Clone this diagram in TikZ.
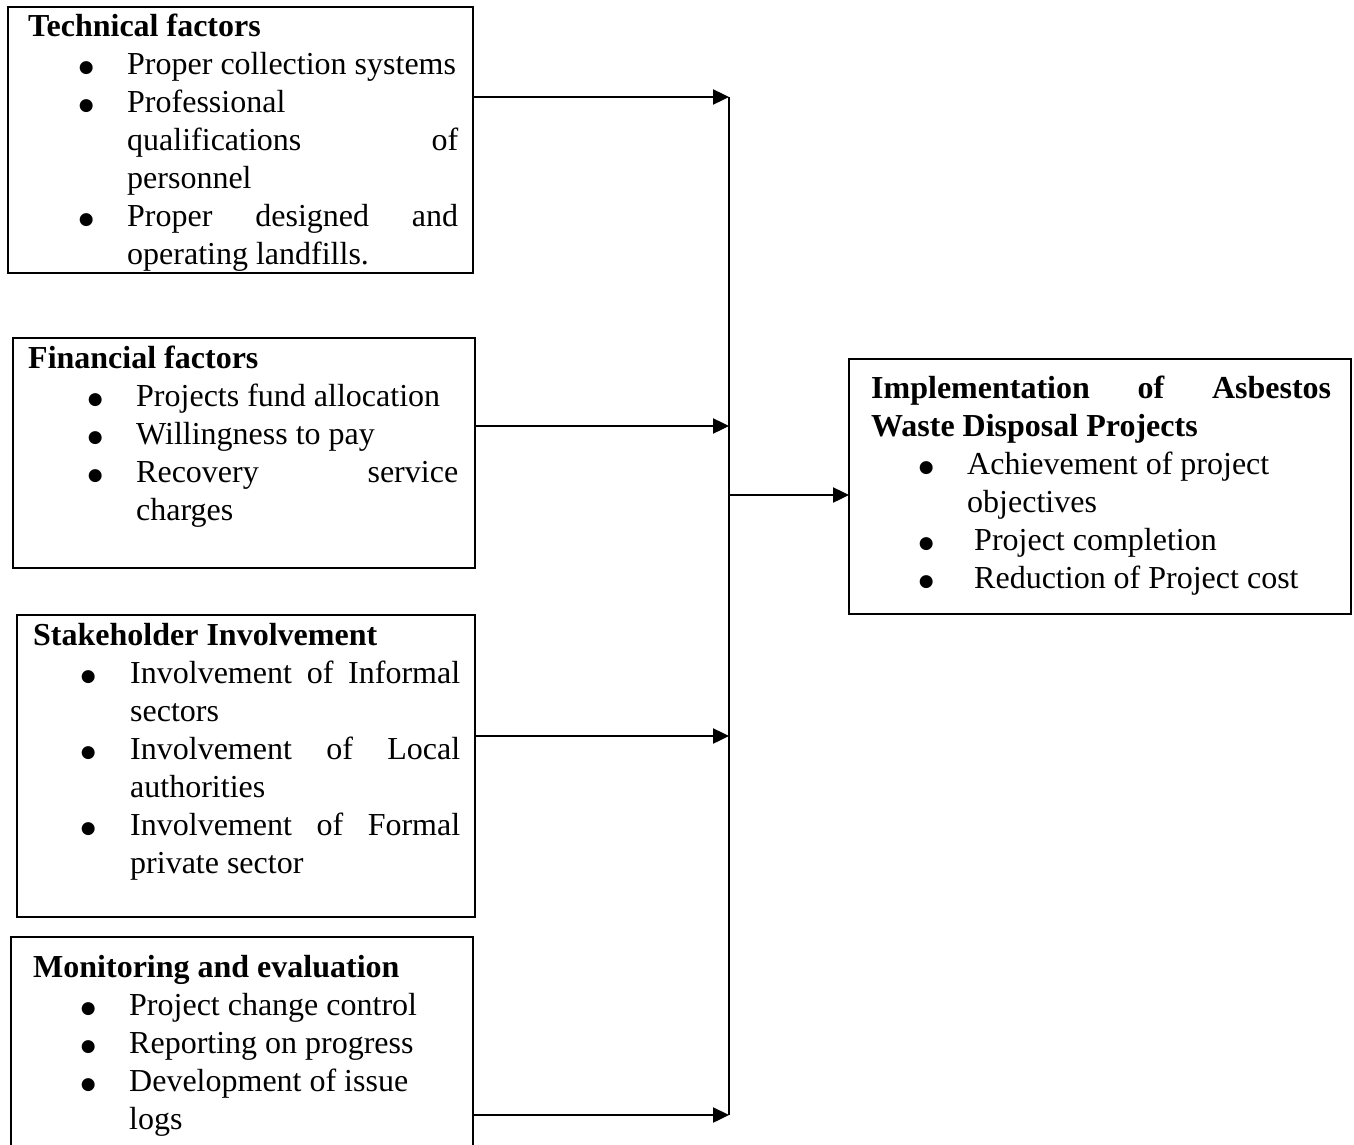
\documentclass[tikz,border=0pt]{standalone}
\usepackage{fontspec}
\setmainfont{Liberation Serif}
\newfontfamily\xsym{DejaVu Sans}
\usetikzlibrary{arrows.meta}
\newlength\xlw
\newcommand\xbul{\raisebox{1pt}{\xsym\fontsize{8.5}{8.5}\selectfont ●}}
\newcommand\xTL[1]{\hbox to \xlw{\bfseries #1\hfil}}
\newcommand\xTJ[1]{\hbox to \xlw{\bfseries #1}}
\newcommand\xBL[3]{\hbox to \xlw{\hskip#1\relax\hbox to 0pt{\hss\xbul\hss}\hskip\dimexpr#2-#1\relax #3\hfil}}
\newcommand\xBJ[3]{\hbox to \xlw{\hskip#1\relax\hbox to 0pt{\hss\xbul\hss}\hskip\dimexpr#2-#1\relax #3}}
\newcommand\xCL[2]{\hbox to \xlw{\hskip#1\relax #2\hfil}}
\newcommand\xCJ[2]{\hbox to \xlw{\hskip#1\relax #2}}
\begin{document}
\begin{tikzpicture}[x=0.5pt,y=-0.5pt,line width=1.2pt,
  box/.style={draw,anchor=north west,inner sep=0pt,outer sep=0pt},
  txt/.style={anchor=base west,inner sep=0pt,font=\fontsize{16}{19}\selectfont},
  arr/.style={-{Triangle[length=8pt,width=7.5pt]}}]
\clip (0,0) rectangle (1354,1145);
% boxes
\node[box,minimum width=232.5pt,minimum height=133pt] (tech) at (8,7) {};
\node[box,minimum width=231pt,minimum height=115pt] (fin) at (13,338) {};
\node[box,minimum width=229pt,minimum height=151pt] (stake) at (17,615) {};
\node[box,minimum width=231pt,minimum height=115pt] (mon) at (11,937) {};
\node[box,minimum width=251pt,minimum height=127.5pt] (impl) at (849,359) {};
% texts
\node[txt] (techtxt) at (27,37) {\vtop{\xlw=215pt\baselineskip=19pt
  \xTL{Technical factors}
  \xBL{29pt}{49.5pt}{Proper collection systems}
  \xBL{29pt}{49.5pt}{Professional}
  \xCJ{49.5pt}{qualifications\hfill of}
  \xCL{49.5pt}{personnel}
  \xBJ{29pt}{49.5pt}{Proper\hfill designed\hfill and}
  \xCL{49.5pt}{operating landfills.}}};
\node[txt] (fintxt) at (27,368) {\vtop{\xlw=215pt\baselineskip=19pt
  \xTL{Financial factors}
  \xBL{33.5pt}{54pt}{Projects fund allocation}
  \xBL{33.5pt}{54pt}{Willingness to pay}
  \xBJ{33.5pt}{54pt}{Recovery\hfill service}
  \xCL{54pt}{charges}}};
\node[txt] (staketxt) at (32,645) {\vtop{\xlw=213.5pt\baselineskip=19pt
  \xTL{Stakeholder Involvement}
  \xBJ{27.5pt}{48.5pt}{Involvement\hfill of\hfill Informal}
  \xCL{48.5pt}{sectors}
  \xBJ{27.5pt}{48.5pt}{Involvement\hfill of\hfill Local}
  \xCL{48.5pt}{authorities}
  \xBJ{27.5pt}{48.5pt}{Involvement\hfill of\hfill Formal}
  \xCL{48.5pt}{private sector}}};
\node[txt] (montxt) at (32,977) {\vtop{\xlw=213.5pt\baselineskip=19pt
  \xTL{Monitoring and evaluation}
  \xBL{27.5pt}{48pt}{Project change control}
  \xBL{27.5pt}{48pt}{Reporting on progress}
  \xBL{27.5pt}{48pt}{Development of issue}
  \xCL{48pt}{logs}}};
\node[txt] (impltxt) at (870,398) {\vtop{\xlw=230pt\baselineskip=19pt
  \xTJ{Implementation\hfill of\hfill Asbestos}
  \xTL{Waste Disposal Projects}
  \xBL{27.5pt}{48pt}{Achievement of project}
  \xCL{48pt}{objectives}
  \xBL{27.5pt}{51.5pt}{Project completion}
  \xBL{27.5pt}{51.5pt}{Reduction of Project cost}}};
% connectors
\coordinate (j1) at (729,97);
\coordinate (j2) at (729,426);
\coordinate (j3) at (729,736);
\coordinate (j4) at (729,1115);
\coordinate (jo) at (729,495);
\draw[arr] (tech.east |- j1) -- (j1);
\draw[arr] (fin.east |- j2) -- (j2);
\draw[arr] (stake.east |- j3) -- (j3);
\draw[arr] (mon.east |- j4) -- (j4);
\draw (j1) -- (j4);
\draw[arr] (jo) -- (impl.west |- jo);
\end{tikzpicture}
\end{document}
